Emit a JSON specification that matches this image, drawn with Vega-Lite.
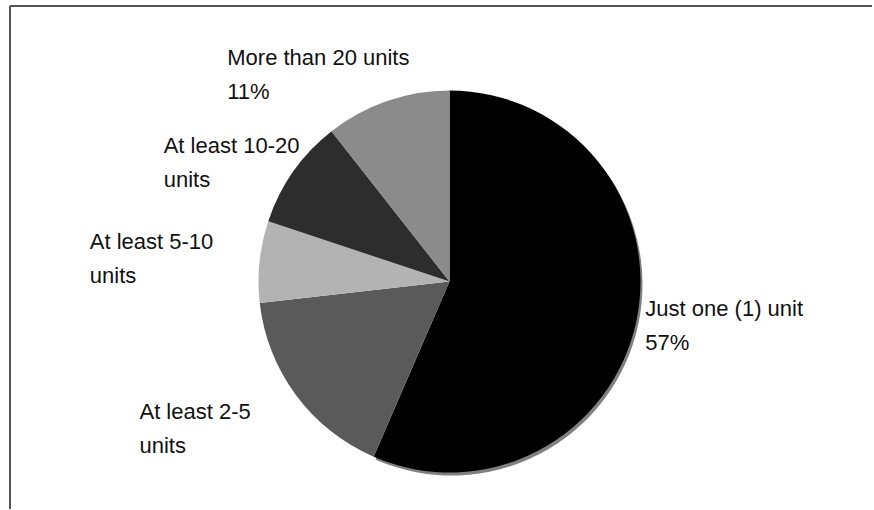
{
  "$schema": "https://vega.github.io/schema/vega-lite/v6.json",
  "width": 863,
  "height": 503,
  "autosize": {"type": "none"},
  "padding": {"left": 10, "top": 6, "right": 0, "bottom": 0},
  "background": "white",
  "config": {"view": {"stroke": null}},
  "datasets": {
    "shares": [
      {"category": "Just one (1) unit", "label": "Just one (1) unit\n57%", "value": 56.5, "rank": 1},
      {"category": "At least 2-5 units", "label": "At least 2-5\nunits", "value": 16.7, "rank": 2},
      {"category": "At least 5-10 units", "label": "At least 5-10\nunits", "value": 6.9, "rank": 3},
      {"category": "At least 10-20 units", "label": "At least 10-20\nunits", "value": 9.3, "rank": 4},
      {"category": "More than 20 units", "label": "More than 20 units\n11%", "value": 10.6, "rank": 5}
    ],
    "frame": [{"frame": "border"}]
  },
  "layer": [
    {
      "data": {"name": "frame"},
      "mark": {"type": "rect", "filled": false, "stroke": "#555555", "strokeWidth": 2, "strokeDash": [862, 1367, 503, 0]},
      "encoding": {}
    },
    {
      "data": {"name": "shares"},
      "mark": {"type": "arc", "radius": 191, "xOffset": 10, "yOffset": 27, "fill": "#808080"},
      "encoding": {
        "theta": {"field": "value", "type": "quantitative", "stack": true},
        "order": {"field": "rank", "type": "quantitative"},
        "opacity": {"condition": {"test": "datum.rank === 1", "value": 1}, "value": 0}
      }
    },
    {
      "data": {"name": "shares"},
      "mark": {"type": "arc", "radius": 191, "xOffset": 8, "yOffset": 24},
      "encoding": {
        "theta": {"field": "value", "type": "quantitative", "stack": true},
        "order": {"field": "rank", "type": "quantitative"},
        "color": {
          "field": "category",
          "type": "nominal",
          "scale": {
            "domain": ["Just one (1) unit", "At least 2-5 units", "At least 5-10 units", "At least 10-20 units", "More than 20 units"],
            "range": ["#000000", "#5a5a5a", "#b3b3b3", "#2d2d2d", "#8b8b8b"]
          },
          "legend": null
        }
      }
    },
    {
      "data": {"name": "shares"},
      "mark": {"type": "text", "radius": 200, "dx": 8, "dy": 11, "align": "left", "baseline": "middle", "fontSize": 22, "lineHeight": 34, "lineBreak": "\n", "font": "Liberation Sans, Arial, sans-serif", "fill": "#111111"},
      "encoding": {
        "theta": {"field": "value", "type": "quantitative", "stack": true},
        "order": {"field": "rank", "type": "quantitative"},
        "text": {"condition": {"test": "datum.rank === 1", "field": "label", "type": "nominal"}, "value": ""}
      }
    },
    {
      "data": {"name": "shares"},
      "mark": {"type": "text", "radius": 244, "dx": -106, "dy": 9, "align": "left", "baseline": "middle", "fontSize": 22, "lineHeight": 34, "lineBreak": "\n", "font": "Liberation Sans, Arial, sans-serif", "fill": "#111111"},
      "encoding": {
        "theta": {"field": "value", "type": "quantitative", "stack": true},
        "order": {"field": "rank", "type": "quantitative"},
        "text": {"condition": {"test": "datum.rank === 2", "field": "label", "type": "nominal"}, "value": ""}
      }
    },
    {
      "data": {"name": "shares"},
      "mark": {"type": "text", "radius": 238, "dx": -115, "dy": 9, "align": "left", "baseline": "middle", "fontSize": 22, "lineHeight": 34, "lineBreak": "\n", "font": "Liberation Sans, Arial, sans-serif", "fill": "#111111"},
      "encoding": {
        "theta": {"field": "value", "type": "quantitative", "stack": true},
        "order": {"field": "rank", "type": "quantitative"},
        "text": {"condition": {"test": "datum.rank === 3", "field": "label", "type": "nominal"}, "value": ""}
      }
    },
    {
      "data": {"name": "shares"},
      "mark": {"type": "text", "radius": 210, "dx": -106, "dy": 9, "align": "left", "baseline": "middle", "fontSize": 22, "lineHeight": 34, "lineBreak": "\n", "font": "Liberation Sans, Arial, sans-serif", "fill": "#111111"},
      "encoding": {
        "theta": {"field": "value", "type": "quantitative", "stack": true},
        "order": {"field": "rank", "type": "quantitative"},
        "text": {"condition": {"test": "datum.rank === 4", "field": "label", "type": "nominal"}, "value": ""}
      }
    },
    {
      "data": {"name": "shares"},
      "mark": {"type": "text", "radius": 221, "dx": -142, "dy": 9, "align": "left", "baseline": "middle", "fontSize": 22, "lineHeight": 34, "lineBreak": "\n", "font": "Liberation Sans, Arial, sans-serif", "fill": "#111111"},
      "encoding": {
        "theta": {"field": "value", "type": "quantitative", "stack": true},
        "order": {"field": "rank", "type": "quantitative"},
        "text": {"condition": {"test": "datum.rank === 5", "field": "label", "type": "nominal"}, "value": ""}
      }
    }
  ]
}
